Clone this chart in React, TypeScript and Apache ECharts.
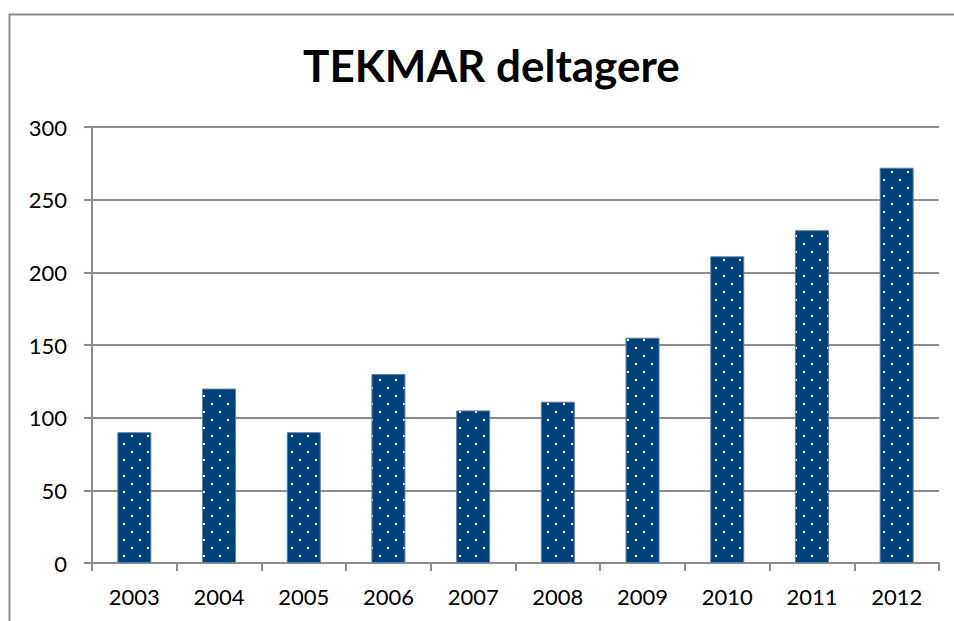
import React, { useEffect, useRef } from "react";
import * as echarts from "echarts";

const years = ["2003", "2004", "2005", "2006", "2007", "2008", "2009", "2010", "2011", "2012"];
const participants = [90, 120, 90, 130, 105, 111, 155, 211, 229, 272];
const titleText = "TEKMAR deltagere";

export default function App() {
  const ref = useRef<HTMLDivElement>(null);
  useEffect(() => {
    document.body.style.margin = "0";
    const chart = echarts.init(ref.current!, undefined, { renderer: "svg" });
    const cv = document.createElement("canvas");
    cv.width = 16;
    cv.height = 16;
    const ctx = cv.getContext("2d")!;
    ctx.fillStyle = "#00417c";
    ctx.fillRect(0, 0, 16, 16);
    ctx.fillStyle = "#ffffff";
    ctx.fillRect(3, 3, 2, 2);
    ctx.fillRect(11, 11, 2, 2);
    const gray = "#8c8c8c";
    chart.setOption({
      animation: false,
      title: {
        text: titleText,
        left: 298,
        top: 38,
        textStyle: { fontFamily: "Lato", fontWeight: "bold", fontSize: 44, color: "#000" },
      },
      graphic: [
        {
          type: "rect",
          shape: { x: 9.5, y: 14.5, width: 960, height: 640 },
          style: { fill: "none", stroke: "#8c8c8c", lineWidth: 2 },
          silent: true,
        },
      ],
      grid: { left: 92, right: 15, top: 127, bottom: 58 },
      xAxis: {
        type: "category",
        data: years,
        axisLine: { lineStyle: { color: gray, width: 2 } },
        axisTick: { show: true, length: 8, lineStyle: { color: gray, width: 2 } },
        axisLabel: { color: "#000", fontSize: 22, fontFamily: "Lato", margin: 22 },
      },
      yAxis: {
        type: "value",
        min: 0,
        max: 300,
        interval: 50,
        axisLine: { show: true, lineStyle: { color: gray, width: 2 } },
        axisTick: { show: true, length: 8, lineStyle: { color: gray, width: 2 } },
        splitLine: { lineStyle: { color: gray, width: 2 } },
        axisLabel: { color: "#000", fontSize: 22, fontFamily: "Lato", margin: 25 },
      },
      series: [
        {
          type: "bar",
          data: participants,
          barWidth: 34,
          itemStyle: {
            color: { image: cv, repeat: "repeat" } as any,
            borderColor: "#5a7fa8",
            borderWidth: 1,
          },
        },
      ],
    });
    return () => chart.dispose();
  }, []);
  return <div ref={ref} style={{ position: "absolute", left: 0, top: 0, width: 954, height: 621 }} />;
}
